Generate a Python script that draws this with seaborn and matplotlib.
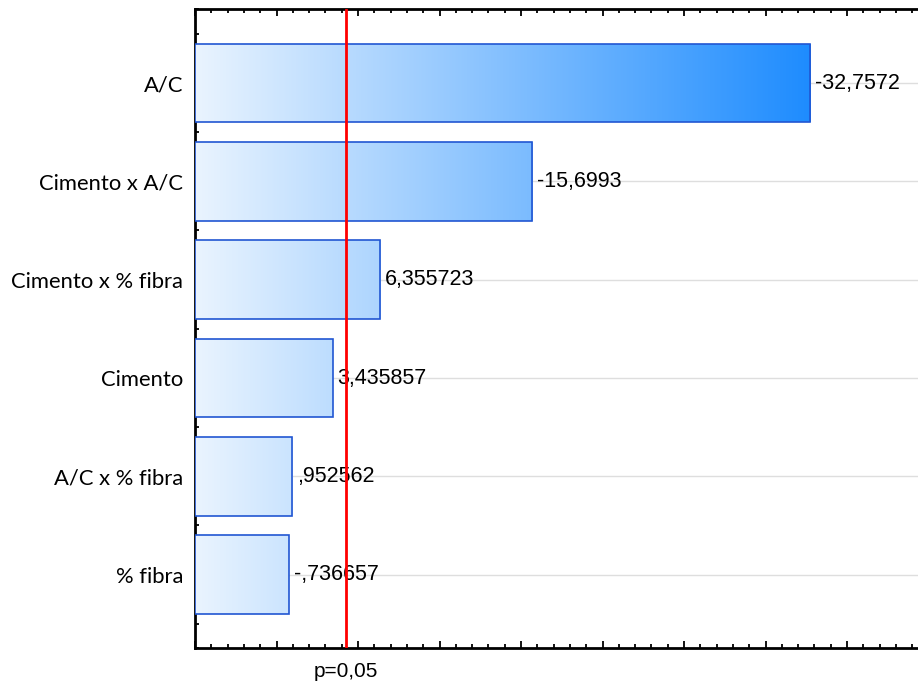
import matplotlib
matplotlib.use("Agg")
import numpy as np
import pandas as pd
import matplotlib.pyplot as plt
import seaborn as sns
from matplotlib.colors import LinearSegmentedColormap
from matplotlib.ticker import MultipleLocator, NullFormatter

# Standardized effects (t values) for each term of the model
factors = ["A/C", "Cimento x A/C", "Cimento x % fibra", "Cimento", "A/C x % fibra", "% fibra"]
effects = [-32.7572, -15.6993, 6.355723, 3.435857, 0.952562, -0.736657]

# Critical t value for the significance line
p_label = "p=0,05"
t_crit = 4.26

X_MIN, X_MAX = -5, 40
Y_PAD = 0.75


def statistica_fmt(v):
    """Comma decimals without the leading zero, e.g. -0.73 -> -,73."""
    s = str(v)
    s = s.replace("-0.", "-.")
    if s.startswith("0."):
        s = s[1:]
    return s.replace(".", ",")


sns.set_style("ticks")
plt.rcParams["font.family"] = ["Liberation Sans", "DejaVu Sans"]

fig = plt.figure(figsize=(9.18, 6.81), dpi=100)
ax = fig.add_axes([195 / 918, (681 - 648.3) / 681, 733.5 / 918, 639 / 681])

df = pd.DataFrame({"factor": factors, "effect": effects})
df["abs_effect"] = df["effect"].abs()

sns.barplot(data=df, x="abs_effect", y="factor", order=factors, orient="h",
            width=0.8, color="#1e8fff", ax=ax, zorder=3)

# Bars start at the left edge of the axis; fill them with a shared horizontal gradient
cmap = LinearSegmentedColormap.from_list("grad", ["#eaf4fe", "#1e8cff"])
grad = np.linspace(0, 1, 512).reshape(1, -1)
vmax = df["abs_effect"].max()
for patch in list(ax.patches):
    end = patch.get_x() + patch.get_width()
    patch.set_x(X_MIN)
    patch.set_width(end - X_MIN)
    patch.set_facecolor("none")
    patch.set_edgecolor("#2156d2")
    patch.set_linewidth(1.2)
    patch.set_zorder(4)
    img = ax.imshow(grad, cmap=cmap, aspect="auto", interpolation="bicubic",
                    extent=[X_MIN, vmax, 5 + Y_PAD, -Y_PAD], zorder=3)
    img.set_clip_path(patch)

ax.set_xlim(X_MIN, X_MAX)
ax.set_ylim(5 + Y_PAD, -Y_PAD)

# Significance line
ax.axvline(t_crit, color="#ff0000", lw=2, zorder=6)
ax.annotate(p_label, xy=(t_crit, 0), xycoords=("data", "axes fraction"),
            xytext=(0, -20.4), textcoords="offset points",
            ha="center", va="baseline", fontsize=15, color="black")

# Value labels
for i, (v, a) in enumerate(zip(df["effect"], df["abs_effect"])):
    ax.annotate(statistica_fmt(v), xy=(a, i), xytext=(3.6, -4), textcoords="offset points",
                ha="left", va="baseline", fontsize=15.5, color="black", zorder=5)

# Axes styling
ax.grid(axis="y", which="major", color="#dedede", lw=1)
ax.set_axisbelow(True)
ax.set_xlabel("")
ax.set_ylabel("")
ax.xaxis.set_major_locator(MultipleLocator(5))
ax.xaxis.set_minor_locator(MultipleLocator(1))
ax.xaxis.set_major_formatter(NullFormatter())
ax.yaxis.set_minor_locator(MultipleLocator(0.25))
ax.tick_params(axis="x", which="both", direction="in", top=True, bottom=True,
               labelbottom=False, width=1.3, color="black")
ax.tick_params(axis="x", which="major", length=5)
ax.tick_params(axis="x", which="minor", length=3)
ax.tick_params(axis="y", which="both", direction="in", left=True, right=False,
               width=1.3, color="black", pad=8.4)
ax.tick_params(axis="y", which="major", length=5)
ax.tick_params(axis="y", which="minor", length=3)
for lbl in ax.get_yticklabels():
    lbl.set_fontfamily(["Lato", "DejaVu Sans"])
    lbl.set_fontsize(15.8)
    lbl.set_color("black")

for side in ["left", "top", "bottom"]:
    ax.spines[side].set_linewidth(2)
    ax.spines[side].set_color("black")
ax.spines["right"].set_visible(False)

fig.savefig("out.png", dpi=100)
